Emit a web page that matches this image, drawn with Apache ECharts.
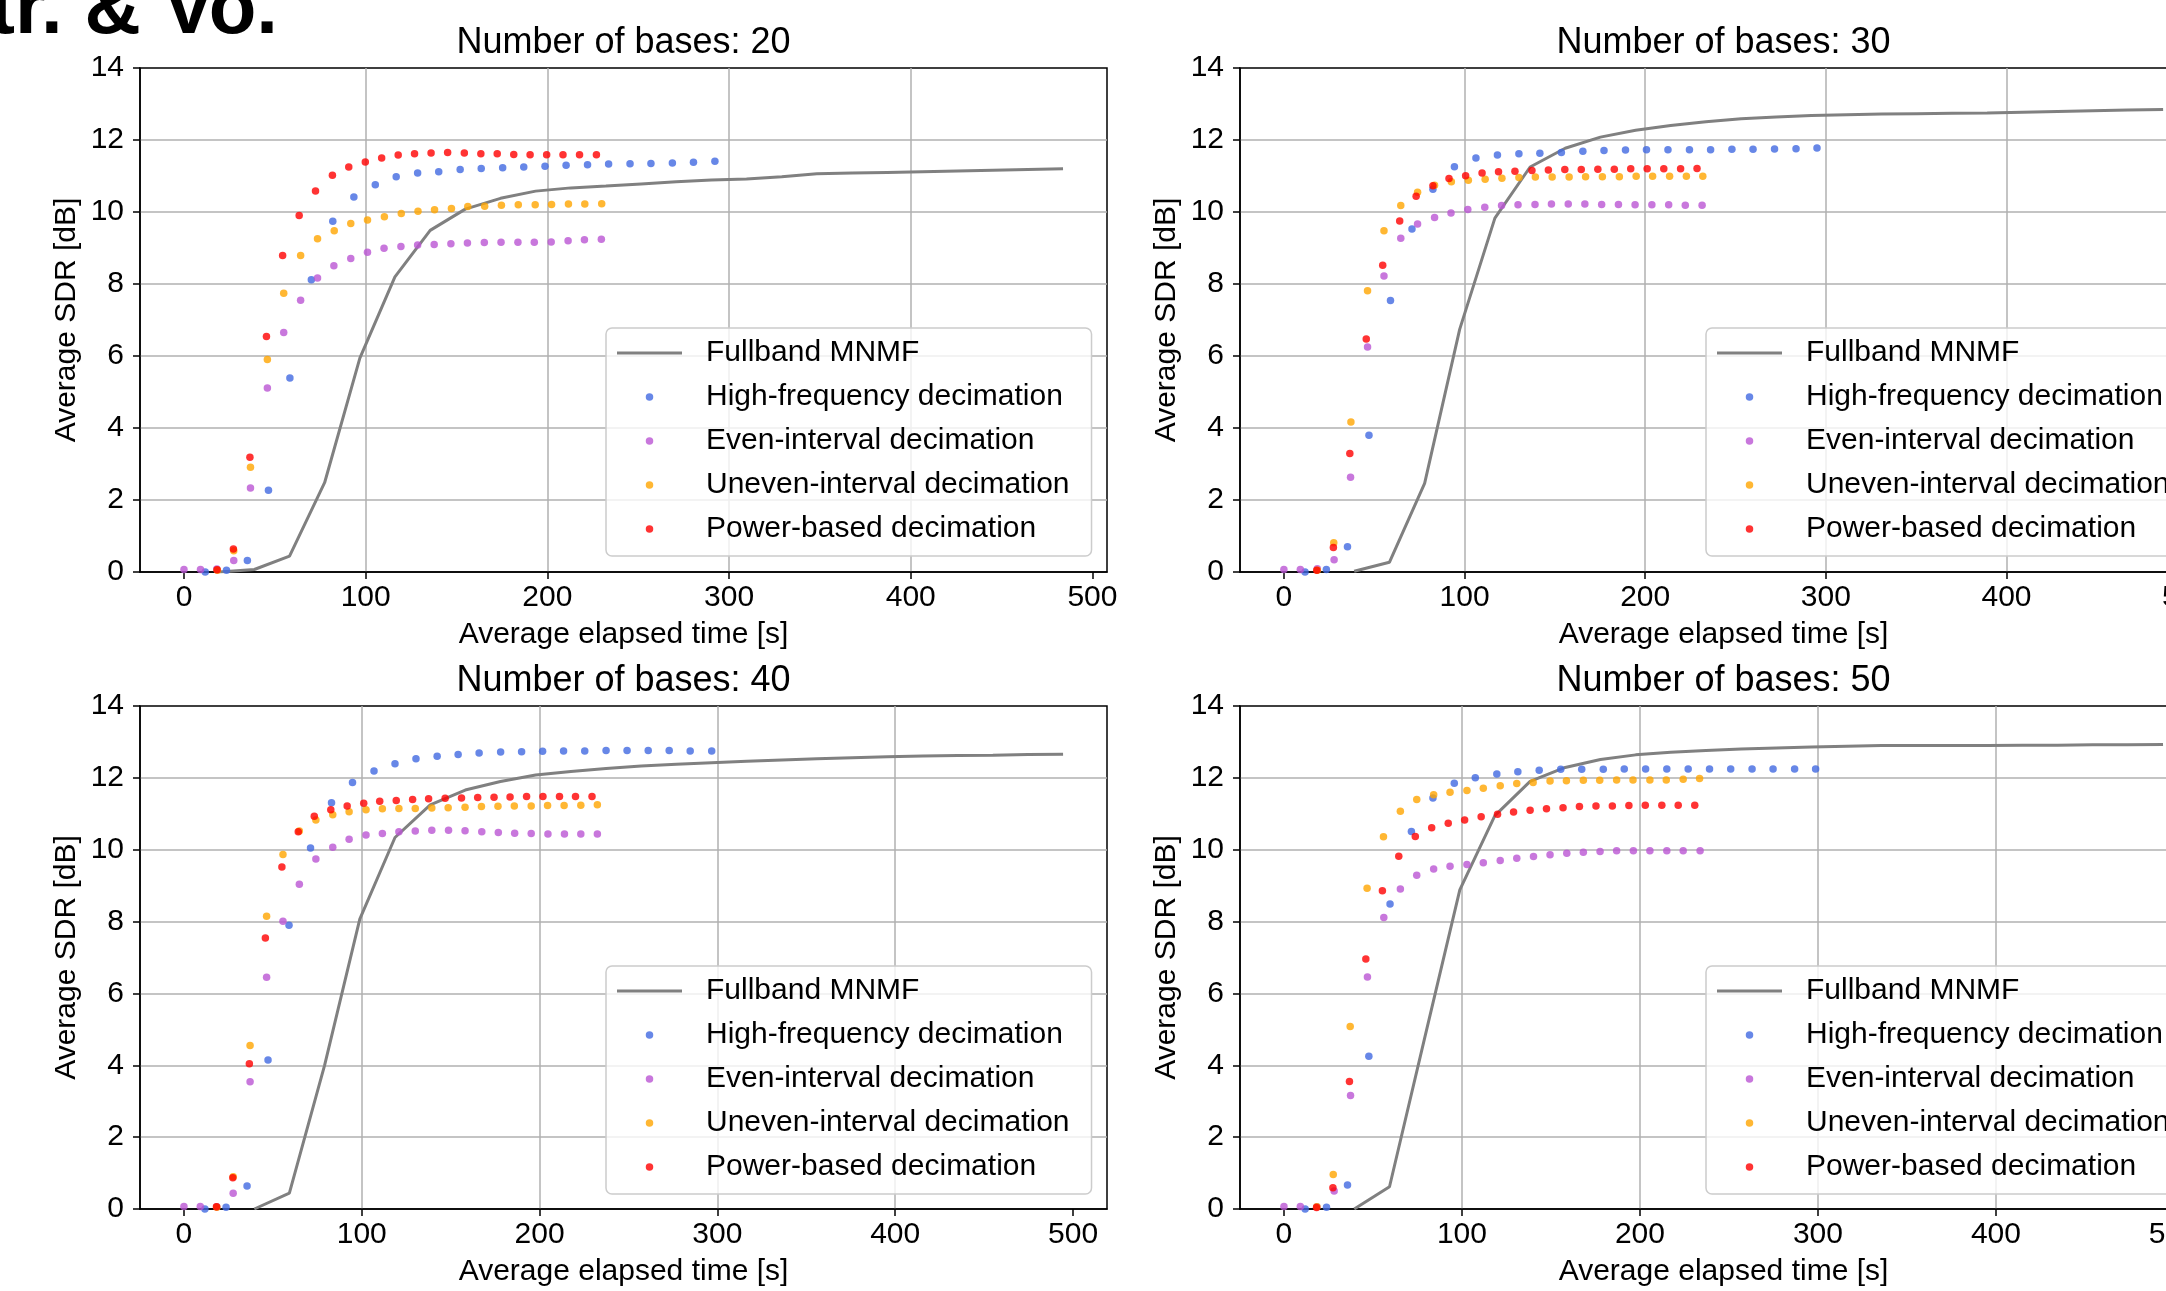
<!DOCTYPE html>
<html>
<head>
<meta charset="utf-8">
<script src="https://cdn.jsdelivr.net/npm/echarts@6/dist/echarts.min.js"></script>
<style>
  html, body { margin: 0; padding: 0; background: #fff; }
  #chart { width: 2166px; height: 1291px; }
</style>
</head>
<body>
<div id="chart"></div>
<script>
// legend names, in plotting order
const methods = ['Fullband MNMF', 'High-frequency decimation', 'Even-interval decimation',
  'Uneven-interval decimation', 'Power-based decimation'];
const basesList = [20, 30, 40, 50];
const xTicks = [0, 100, 200, 300, 400, 500];

// ---- number of bases: 20 ----
const t20Full = [19.4, 38.7, 58.1, 77.4, 96.8, 116.1, 135.5, 154.8, 174.2, 193.5, 212.9, 232.2, 251.6, 270.9, 290.3, 309.6, 329.0, 348.3, 367.7, 387.0, 406.4, 425.7, 445.1, 464.4, 483.8];
const v20Full = [0.0, 0.07, 0.44, 2.48, 5.94, 8.20, 9.49, 10.08, 10.38, 10.58, 10.67, 10.72, 10.78, 10.84, 10.89, 10.92, 10.98, 11.06, 11.08, 11.10, 11.12, 11.14, 11.16, 11.18, 11.20];
const t20High = [11.7, 23.4, 34.9, 46.5, 58.3, 70.1, 81.9, 93.5, 105.3, 116.8, 128.6, 140.2, 152.0, 163.6, 175.4, 187.0, 198.7, 210.3, 222.1, 233.7, 245.5, 257.0, 268.8, 280.4, 292.2];
const v20High = [0.0, 0.05, 0.32, 2.27, 5.39, 8.12, 9.74, 10.42, 10.76, 10.98, 11.08, 11.12, 11.18, 11.21, 11.23, 11.25, 11.27, 11.30, 11.31, 11.33, 11.34, 11.35, 11.36, 11.38, 11.41];
const t20Even = [0, 9.1, 18.1, 27.4, 36.6, 45.9, 54.9, 64.2, 73.5, 82.5, 91.8, 101.0, 110.1, 119.4, 128.6, 137.7, 146.9, 156.0, 165.3, 174.5, 183.8, 192.8, 202.1, 211.4, 220.4, 229.7];
const v20Even = [0.07, 0.07, 0.08, 0.32, 2.33, 5.11, 6.65, 7.55, 8.17, 8.51, 8.71, 8.88, 8.99, 9.04, 9.08, 9.10, 9.12, 9.14, 9.15, 9.16, 9.16, 9.16, 9.17, 9.20, 9.23, 9.24];
const t20Uneven = [18.4, 27.4, 36.6, 45.9, 54.9, 64.2, 73.5, 82.7, 91.8, 101.0, 110.3, 119.6, 128.8, 137.9, 147.2, 156.2, 165.5, 174.7, 184.0, 193.3, 202.3, 211.6, 220.6, 229.9];
const v20Uneven = [0.05, 0.59, 2.91, 5.90, 7.74, 8.79, 9.26, 9.48, 9.68, 9.78, 9.87, 9.96, 10.02, 10.06, 10.10, 10.15, 10.16, 10.19, 10.20, 10.20, 10.21, 10.22, 10.22, 10.23];
const t20Power = [18.2, 27.2, 36.3, 45.4, 54.3, 63.4, 72.4, 81.7, 90.7, 99.8, 108.8, 117.9, 126.9, 136.0, 145.1, 154.3, 163.4, 172.4, 181.5, 190.5, 199.6, 208.6, 217.7, 227.0];
const v20Power = [0.06, 0.64, 3.19, 6.54, 8.79, 9.90, 10.58, 11.02, 11.25, 11.39, 11.50, 11.58, 11.62, 11.64, 11.65, 11.64, 11.62, 11.62, 11.60, 11.59, 11.59, 11.59, 11.59, 11.59];

// ---- number of bases: 30 ----
const t30Full = [38.9, 58.4, 77.9, 97.3, 116.8, 136.3, 155.7, 175.2, 194.7, 214.1, 233.6, 253.1, 272.5, 292.0, 311.5, 330.9, 350.4, 369.9, 389.3, 408.8, 428.3, 447.7, 467.2, 486.7];
const v30Full = [0.02, 0.27, 2.46, 6.74, 9.83, 11.25, 11.77, 12.08, 12.27, 12.40, 12.51, 12.59, 12.64, 12.68, 12.70, 12.72, 12.73, 12.74, 12.75, 12.77, 12.79, 12.81, 12.83, 12.85];
const t30High = [11.7, 23.5, 35.2, 47.1, 59.0, 70.9, 82.5, 94.4, 106.3, 118.2, 130.1, 141.7, 153.6, 165.5, 177.2, 189.1, 200.7, 212.6, 224.5, 236.2, 248.0, 259.7, 271.6, 283.5, 295.1];
const v30High = [0.0, 0.07, 0.70, 3.80, 7.54, 9.53, 10.63, 11.26, 11.50, 11.58, 11.62, 11.63, 11.65, 11.69, 11.71, 11.72, 11.73, 11.73, 11.73, 11.73, 11.74, 11.74, 11.75, 11.76, 11.78];
const t30Even = [0, 9.1, 18.5, 27.8, 36.9, 46.3, 55.4, 64.7, 74.0, 83.4, 92.5, 101.8, 111.2, 120.5, 129.6, 139.0, 148.1, 157.4, 166.6, 175.9, 185.2, 194.4, 203.7, 213.0, 222.2, 231.5];
const v30Even = [0.07, 0.07, 0.09, 0.34, 2.63, 6.25, 8.22, 9.27, 9.67, 9.85, 9.97, 10.07, 10.13, 10.18, 10.20, 10.21, 10.22, 10.22, 10.22, 10.21, 10.21, 10.20, 10.20, 10.20, 10.19, 10.19];
const t30Uneven = [18.5, 27.6, 37.1, 46.3, 55.4, 64.7, 74.0, 83.4, 92.7, 102.1, 111.4, 120.7, 130.1, 139.2, 148.5, 157.9, 167.0, 176.3, 185.7, 195.0, 204.1, 213.5, 222.8, 231.9];
const v30Uneven = [0.05, 0.81, 4.17, 7.81, 9.48, 10.18, 10.55, 10.74, 10.84, 10.88, 10.91, 10.94, 10.96, 10.97, 10.97, 10.97, 10.98, 10.98, 10.98, 10.99, 10.99, 10.99, 10.99, 10.99];
const t30Power = [18.2, 27.4, 36.5, 45.6, 54.7, 64.1, 73.2, 82.5, 91.4, 100.6, 109.7, 118.8, 127.9, 137.3, 146.4, 155.5, 164.6, 173.8, 182.9, 192.0, 201.1, 210.3, 219.6, 228.7];
const v30Power = [0.05, 0.68, 3.29, 6.47, 8.52, 9.75, 10.44, 10.73, 10.93, 11.01, 11.08, 11.12, 11.13, 11.15, 11.17, 11.18, 11.18, 11.19, 11.19, 11.20, 11.20, 11.20, 11.20, 11.21];

// ---- number of bases: 40 ----
const t40Full = [39.6, 59.3, 79.1, 98.9, 118.7, 138.5, 158.2, 178.0, 197.8, 217.6, 237.4, 257.1, 276.9, 296.7, 316.5, 336.3, 356.0, 375.8, 395.6, 415.4, 435.2, 454.9, 474.7, 494.4];
const v40Full = [0.0, 0.44, 4.0, 8.07, 10.34, 11.25, 11.66, 11.90, 12.08, 12.18, 12.26, 12.33, 12.38, 12.42, 12.46, 12.50, 12.53, 12.56, 12.59, 12.61, 12.62, 12.63, 12.65, 12.66];
const t40High = [11.8, 23.7, 35.5, 47.3, 59.1, 71.2, 83.0, 94.8, 106.9, 118.7, 130.5, 142.4, 154.2, 166.0, 178.1, 189.9, 201.7, 213.5, 225.4, 237.4, 249.2, 261.1, 272.9, 284.7, 296.8];
const v40High = [0.0, 0.05, 0.64, 4.15, 7.90, 10.05, 11.31, 11.87, 12.19, 12.39, 12.53, 12.60, 12.65, 12.69, 12.72, 12.73, 12.74, 12.75, 12.75, 12.76, 12.76, 12.76, 12.76, 12.75, 12.75];
const t40Even = [0, 9.2, 18.5, 27.7, 37.2, 46.5, 55.7, 64.9, 74.2, 83.7, 92.9, 102.4, 111.6, 120.9, 130.1, 139.4, 148.8, 158.1, 167.5, 176.8, 186.0, 195.3, 204.7, 214.0, 223.2, 232.5];
const v40Even = [0.07, 0.07, 0.06, 0.44, 3.54, 6.45, 8.01, 9.04, 9.74, 10.07, 10.29, 10.41, 10.45, 10.50, 10.52, 10.54, 10.54, 10.53, 10.50, 10.48, 10.46, 10.45, 10.44, 10.44, 10.44, 10.44];
const t40Uneven = [18.5, 27.7, 37.2, 46.5, 55.7, 64.9, 74.2, 83.7, 92.9, 102.4, 111.6, 120.9, 130.1, 139.4, 148.6, 158.1, 167.3, 176.6, 185.8, 195.3, 204.5, 213.8, 223.2, 232.5];
const v40Uneven = [0.05, 0.90, 4.55, 8.15, 9.87, 10.52, 10.83, 10.97, 11.06, 11.11, 11.14, 11.15, 11.15, 11.16, 11.17, 11.18, 11.20, 11.21, 11.22, 11.22, 11.23, 11.23, 11.24, 11.25];
const t40Power = [18.3, 27.5, 36.8, 45.8, 55.1, 64.3, 73.3, 82.6, 91.8, 101.1, 110.1, 119.4, 128.6, 137.6, 146.9, 156.1, 165.2, 174.4, 183.4, 192.7, 201.9, 211.2, 220.2, 229.5];
const v40Power = [0.06, 0.87, 4.04, 7.54, 9.52, 10.50, 10.93, 11.11, 11.22, 11.29, 11.35, 11.37, 11.40, 11.42, 11.43, 11.44, 11.45, 11.46, 11.47, 11.48, 11.48, 11.48, 11.48, 11.48];

// ---- number of bases: 50 ----
const t50Full = [39.5, 59.3, 79.0, 98.8, 118.5, 138.3, 158.0, 177.8, 197.6, 217.3, 237.1, 256.8, 276.6, 296.3, 316.1, 335.8, 355.6, 375.4, 395.1, 414.9, 434.6, 454.4, 474.1, 493.9];
const v50Full = [0.0, 0.62, 4.75, 8.88, 10.95, 11.90, 12.29, 12.51, 12.64, 12.71, 12.76, 12.80, 12.83, 12.86, 12.88, 12.90, 12.90, 12.90, 12.90, 12.91, 12.91, 12.92, 12.92, 12.93];
const t50High = [11.9, 23.9, 35.7, 47.7, 59.6, 71.6, 83.7, 95.7, 107.5, 119.6, 131.4, 143.4, 155.5, 167.3, 179.4, 191.2, 203.2, 215.1, 227.1, 239.1, 251.0, 263.0, 274.8, 286.9, 298.7];
const v50High = [0.0, 0.05, 0.67, 4.25, 8.49, 10.51, 11.44, 11.85, 12.00, 12.11, 12.17, 12.21, 12.24, 12.24, 12.24, 12.25, 12.25, 12.25, 12.25, 12.25, 12.25, 12.25, 12.25, 12.25, 12.25];
const t50Even = [0, 9.2, 18.5, 28.2, 37.4, 46.9, 56.1, 65.4, 74.6, 84.1, 93.3, 102.8, 112.0, 121.5, 130.8, 140.2, 149.5, 158.9, 168.2, 177.6, 186.9, 196.3, 205.6, 215.1, 224.3, 233.8];
const v50Even = [0.07, 0.07, 0.06, 0.50, 3.16, 6.46, 8.11, 8.91, 9.29, 9.46, 9.54, 9.59, 9.64, 9.70, 9.76, 9.81, 9.86, 9.90, 9.93, 9.95, 9.97, 9.97, 9.97, 9.97, 9.97, 9.97];
const t50Uneven = [18.5, 27.7, 37.2, 46.7, 55.9, 65.4, 74.6, 84.1, 93.3, 102.8, 112.0, 121.5, 130.8, 140.0, 149.5, 158.7, 168.2, 177.4, 186.9, 196.1, 205.6, 214.8, 224.3, 233.5];
const v50Uneven = [0.06, 0.96, 5.08, 8.93, 10.36, 11.07, 11.40, 11.53, 11.60, 11.65, 11.71, 11.78, 11.84, 11.87, 11.91, 11.92, 11.93, 11.93, 11.94, 11.94, 11.94, 11.94, 11.96, 11.98];
const t50Power = [18.3, 27.5, 36.8, 46.0, 55.3, 64.5, 73.8, 83.0, 92.3, 101.5, 110.8, 120.0, 129.0, 138.3, 147.5, 156.8, 166.0, 175.3, 184.5, 193.8, 203.0, 212.3, 221.5, 230.8];
const v50Power = [0.04, 0.59, 3.55, 6.96, 8.86, 9.82, 10.37, 10.61, 10.74, 10.83, 10.92, 10.99, 11.05, 11.10, 11.14, 11.17, 11.20, 11.22, 11.22, 11.23, 11.24, 11.24, 11.24, 11.24];

const FONT = 'Liberation Sans, Arial, Helvetica, sans-serif';
const colors = ['#808080', '#4169e1', '#ba55d3', '#ffa500', '#ff0000'];
const PLOT_W = 967;

// subplot layout (matplotlib 2x2, right column runs past the picture edge)
const panels = [
  { left: 140, top: 68, height: 504, xMin: -24.2, xMax: 508.0,
    t: [t20Full, t20High, t20Even, t20Uneven, t20Power], v: [v20Full, v20High, v20Even, v20Uneven, v20Power] },
  { left: 1240, top: 68, height: 504, xMin: -24.3, xMax: 511.0,
    t: [t30Full, t30High, t30Even, t30Uneven, t30Power], v: [v30Full, v30High, v30Even, v30Uneven, v30Power] },
  { left: 140, top: 706, height: 503, xMin: -24.7, xMax: 519.1,
    t: [t40Full, t40High, t40Even, t40Uneven, t40Power], v: [v40Full, v40High, v40Even, v40Uneven, v40Power] },
  { left: 1240, top: 706, height: 503, xMin: -24.7, xMax: 518.6,
    t: [t50Full, t50High, t50Even, t50Uneven, t50Power], v: [v50Full, v50High, v50Even, v50Uneven, v50Power] }
];

function pairs(t, v) {
  return t.map((x, i) => [x, v[i]]);
}

const txt = { fontSize: 30, color: '#000', fontFamily: FONT };
const axisLine = { show: true, onZero: false, lineStyle: { color: '#000', width: 1.5 } };
const axisTick = { show: true, inside: false, length: 7, lineStyle: { color: '#000', width: 1.5 } };
const splitLine = { show: true, showMinLine: false, showMaxLine: false, lineStyle: { color: '#b0b0b0', width: 1.5 } };

// legend entries: plain bar for the line, default circles for the scatters
const legendData = methods.map((m, k) => k === 0 ? { name: m, icon: 'path://M0 0H65V3H0Z' } : { name: m });

const grid = [], xAxis = [], yAxis = [], series = [], title = [], legend = [];

panels.forEach((p, i) => {
  grid.push({ left: p.left, top: p.top, width: PLOT_W, height: p.height,
    outerBoundsMode: 'none', containLabel: false,
    show: true, borderColor: '#000', borderWidth: 1.5, backgroundColor: 'transparent' });

  xAxis.push({
    gridIndex: i, type: 'value', min: p.xMin, max: p.xMax, splitNumber: 5,
    name: 'Average elapsed time [s]', nameLocation: 'middle', nameGap: 48, nameTextStyle: txt,
    axisLine, axisTick: Object.assign({ customValues: xTicks }, axisTick),
    axisLabel: Object.assign({ margin: 11, customValues: xTicks }, txt),
    splitLine
  });
  yAxis.push({
    gridIndex: i, type: 'value', min: 0, max: 14, interval: 2,
    name: 'Average SDR [dB]', nameLocation: 'middle', nameGap: 58, nameRotate: 90, nameTextStyle: txt,
    axisLine, axisTick,
    axisLabel: Object.assign({ margin: 16 }, txt),
    splitLine
  });

  methods.forEach((m, k) => {
    const s = {
      name: m, xAxisIndex: i, yAxisIndex: i,
      data: pairs(p.t[k], p.v[k]),
      itemStyle: { color: colors[k] },
      animation: false
    };
    if (k === 0) {
      Object.assign(s, { type: 'line', symbol: 'none', showSymbol: false, clip: true, z: 2,
        lineStyle: { color: colors[k], width: 3 } });
    } else {
      Object.assign(s, { type: 'scatter', symbol: 'circle', symbolSize: 7.5, z: 3 });
    }
    series.push(s);
  });

  title.push({
    text: 'Number of bases: ' + basesList[i],
    left: p.left + PLOT_W / 2, top: p.top - 43, textAlign: 'center', padding: 0,
    textStyle: { fontSize: 36, fontWeight: 'normal', color: '#000', fontFamily: FONT }
  });

  legend.push({
    orient: 'vertical', left: p.left + 466, top: p.top + 260,
    data: legendData, selectedMode: false,
    itemWidth: 65, itemHeight: 7.5, itemGap: 14,
    padding: [10, 22, 12, 11],
    backgroundColor: 'rgba(255,255,255,0.8)', borderColor: '#cccccc', borderWidth: 1.5, borderRadius: 6,
    textStyle: Object.assign({ padding: [0, 0, 0, 19] }, txt)
  });
});

const chart = echarts.init(document.getElementById('chart'), null, { renderer: 'canvas' });
chart.setOption({
  backgroundColor: '#fff',
  animation: false,
  title, legend, grid, xAxis, yAxis, series,
  graphic: [{
    type: 'text', z: 10,
    style: { text: 'Instr. & Vo.', x: 278, y: 11, align: 'right', verticalAlign: 'middle',
      fontSize: 78, fontWeight: 'bold', fontFamily: FONT, fill: '#000' }
  }]
});
</script>
</body>
</html>
